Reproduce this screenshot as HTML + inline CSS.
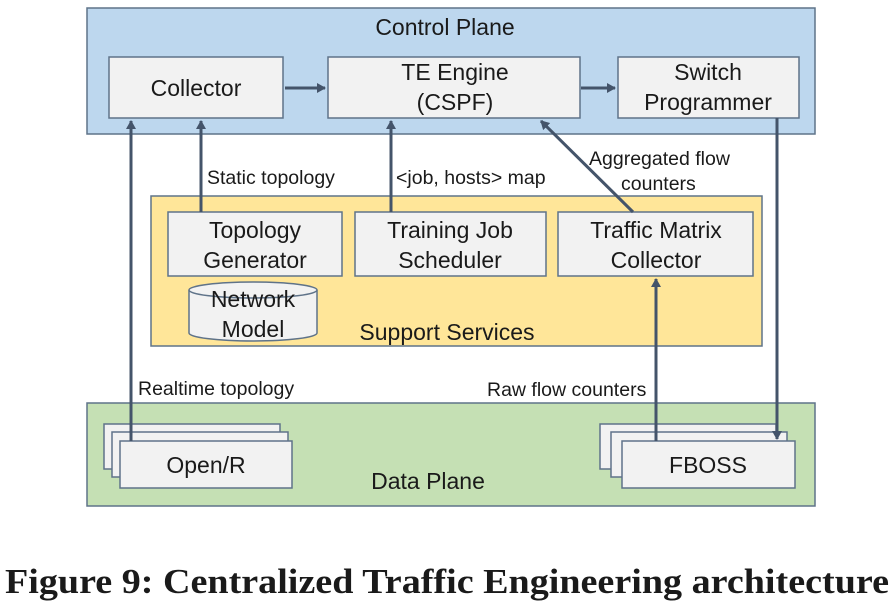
<!DOCTYPE html>
<html><head><meta charset="utf-8"><style>
body{margin:0;background:#fff;width:893px;height:609px;overflow:hidden}
svg text{font-family:"Liberation Sans",sans-serif;fill:#1a1a1a}
</style></head><body>
<svg width="893" height="609" viewBox="0 0 893 609" xmlns="http://www.w3.org/2000/svg">
<defs><marker id="a" markerWidth="10" markerHeight="10" refX="8" refY="5" orient="auto" markerUnits="userSpaceOnUse"><path d="M0,0 L9,5 L0,10 Z" fill="#44546a"/></marker></defs>
<g stroke="#5f7389" stroke-width="1.5">
<rect x="87" y="8" width="728" height="126" fill="#bdd7ee"/>
<rect x="151" y="196" width="611" height="150" fill="#ffe699"/>
<rect x="87" y="403" width="728" height="103" fill="#c5e0b4"/>
<g fill="#f2f2f2">
<rect x="109" y="57" width="174" height="61"/>
<rect x="328" y="57" width="252" height="61"/>
<rect x="618" y="57" width="181" height="61"/>
<rect x="168" y="212" width="174" height="64"/>
<rect x="355" y="212" width="191" height="64"/>
<rect x="558" y="212" width="195" height="64"/>
<path d="M189,290 L189,333 A64,8 0 0 0 317,333 L317,290"/>
<ellipse cx="253" cy="290" rx="64" ry="8"/>
<rect x="104" y="424" width="176" height="45"/>
<rect x="112" y="432" width="176" height="45"/>
<rect x="120" y="441" width="172" height="47"/>
<rect x="600" y="424" width="176" height="45"/>
<rect x="611" y="432" width="176" height="45"/>
<rect x="622" y="441" width="173" height="47"/>
</g></g>
<g stroke="#44546a" stroke-width="3" fill="none" marker-end="url(#a)">
<line x1="285" y1="88" x2="325" y2="88"/>
<line x1="581" y1="88" x2="615" y2="88"/>
<line x1="131" y1="441" x2="131" y2="121"/>
<line x1="201" y1="212" x2="201" y2="121"/>
<line x1="391" y1="212" x2="391" y2="121"/>
<line x1="633" y1="212" x2="541" y2="121"/>
<line x1="656" y1="441" x2="656" y2="279"/>
<line x1="777" y1="118" x2="777" y2="439"/>
</g>
<g font-size="23" text-anchor="middle">
<text x="445" y="35">Control Plane</text>
<text x="196" y="96">Collector</text>
<text x="455" y="80">TE Engine</text>
<text x="455" y="110">(CSPF)</text>
<text x="708" y="80">Switch</text>
<text x="708" y="110">Programmer</text>
<text x="255" y="238">Topology</text>
<text x="255" y="268">Generator</text>
<text x="450" y="238">Training Job</text>
<text x="450" y="268">Scheduler</text>
<text x="656" y="238">Traffic Matrix</text>
<text x="656" y="268">Collector</text>
<text x="253" y="307">Network</text>
<text x="253" y="337">Model</text>
<text x="447" y="340">Support Services</text>
<text x="428" y="489">Data Plane</text>
<text x="206" y="473">Open/R</text>
<text x="708" y="473">FBOSS</text>
</g>
<g font-size="19.5">
<text x="207" y="184">Static topology</text>
<text x="396" y="184">&lt;job, hosts&gt; map</text>
<text x="589" y="165">Aggregated flow</text>
<text x="621" y="190">counters</text>
<text x="138" y="395">Realtime topology</text>
<text x="487" y="396">Raw flow counters</text>
</g>
<text x="5" y="593" textLength="884" lengthAdjust="spacingAndGlyphs" font-weight="bold" font-size="35" style="font-family:'Liberation Serif',serif">Figure 9: Centralized Traffic Engineering architecture</text>
</svg>
</body></html>
